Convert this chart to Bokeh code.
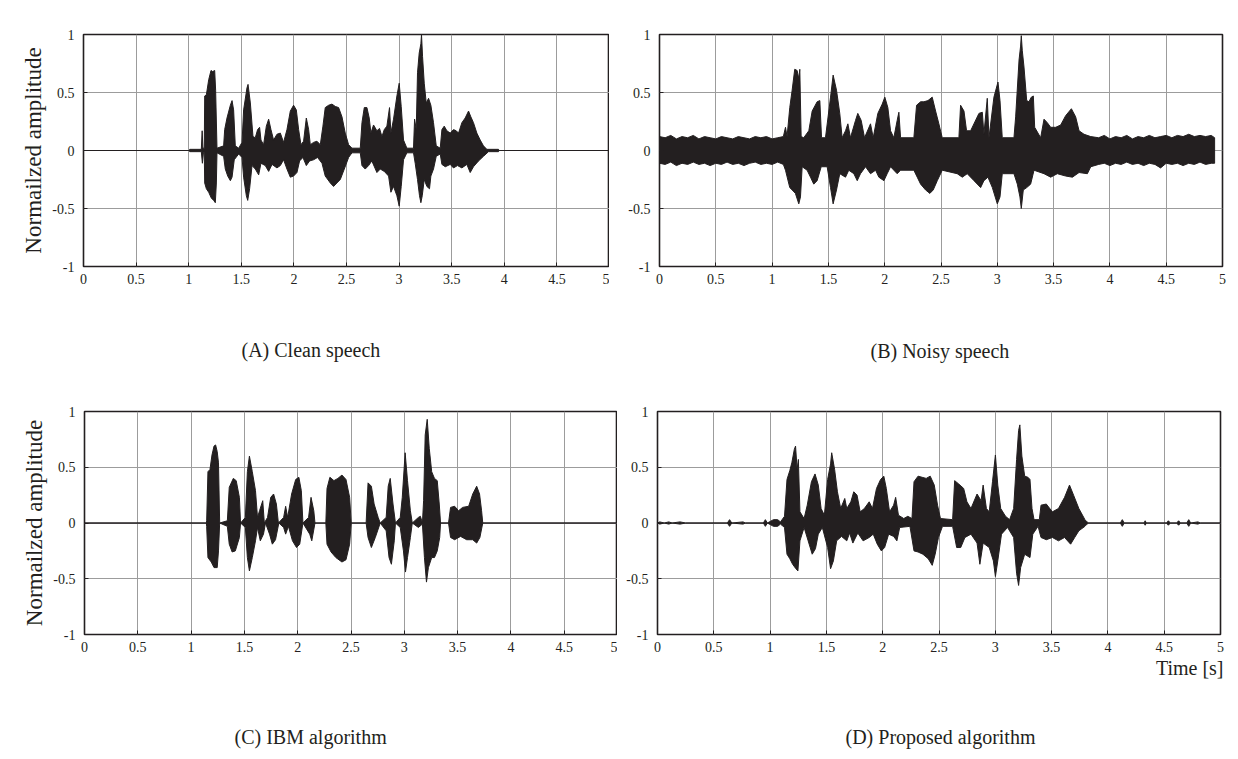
from bokeh.plotting import figure
from bokeh.layouts import column, row
from bokeh.models import FixedTicker, CustomJSTickFormatter, Range1d, Title
from bokeh.embed import file_html
from bokeh.resources import INLINE

# ---------------- data ----------------
X_TICKS = [0, 0.5, 1, 1.5, 2, 2.5, 3, 3.5, 4, 4.5, 5]
Y_TICKS = [-1, -0.5, 0, 0.5, 1]
CAPTIONS = ["(A) Clean speech", "(B) Noisy speech", "(C) IBM algorithm", "(D) Proposed algorithm"]
Y_LABEL = "Normailzed amplitude"
X_LABEL = "Time [s]"

# upper / lower envelopes of each waveform: (time [s], normalized amplitude)
A_TOP = [(0.0, 0.0), (1.0, 0.0), (1.01, 0.01), (1.12, 0.01), (1.128, 0.17), (1.135, 0.02), (1.148, 0.02),
         (1.152, 0.47), (1.168, 0.48), (1.19, 0.61), (1.212, 0.69), (1.228, 0.68), (1.247, 0.69), (1.256, 0.52),
         (1.269, 0.02), (1.332, 0.04), (1.342, 0.18), (1.364, 0.28), (1.396, 0.39), (1.412, 0.43), (1.427, 0.35),
         (1.443, 0.04), (1.475, 0.02), (1.507, 0.07), (1.522, 0.35), (1.554, 0.54), (1.564, 0.57), (1.586, 0.41),
         (1.611, 0.12), (1.633, 0.11), (1.655, 0.18), (1.674, 0.20), (1.687, 0.09), (1.712, 0.05), (1.738, 0.21),
         (1.76, 0.27), (1.782, 0.18), (1.807, 0.09), (1.839, 0.14), (1.871, 0.15), (1.902, 0.07), (1.934, 0.18),
         (1.966, 0.34), (1.997, 0.39), (2.023, 0.35), (2.045, 0.18), (2.067, 0.05), (2.092, 0.08), (2.118, 0.28),
         (2.14, 0.18), (2.156, 0.05), (2.187, 0.07), (2.219, 0.08), (2.251, 0.05), (2.276, 0.21), (2.298, 0.37),
         (2.33, 0.39), (2.362, 0.40), (2.393, 0.38), (2.425, 0.37), (2.457, 0.29), (2.488, 0.15), (2.52, 0.05),
         (2.552, 0.02), (2.631, 0.02), (2.647, 0.24), (2.669, 0.37), (2.694, 0.37), (2.716, 0.28), (2.732, 0.15),
         (2.757, 0.22), (2.789, 0.17), (2.814, 0.19), (2.837, 0.12), (2.859, 0.18), (2.884, 0.21), (2.909, 0.37),
         (2.922, 0.15), (2.947, 0.27), (2.979, 0.47), (3.001, 0.58), (3.02, 0.38), (3.042, 0.09), (3.074, 0.02),
         (3.137, 0.02), (3.147, 0.27), (3.163, 0.18), (3.175, 0.67), (3.191, 0.84), (3.207, 0.92), (3.213, 1.0),
         (3.223, 0.81), (3.239, 0.58), (3.258, 0.41), (3.28, 0.45), (3.302, 0.39), (3.327, 0.24), (3.353, 0.04),
         (3.391, 0.02), (3.407, 0.18), (3.429, 0.21), (3.454, 0.17), (3.486, 0.15), (3.517, 0.18), (3.543, 0.17),
         (3.565, 0.15), (3.597, 0.24), (3.628, 0.28), (3.66, 0.34), (3.682, 0.29), (3.707, 0.24), (3.739, 0.15),
         (3.771, 0.09), (3.802, 0.04), (3.834, 0.01), (3.945, 0.01), (3.95, 0.0), (5.0, 0.0)]
A_BOT = [(0.0, 0.0), (1.0, 0.0), (1.01, -0.01), (1.12, -0.01), (1.13, -0.11), (1.14, -0.02), (1.148, -0.02),
         (1.152, -0.28), (1.168, -0.33), (1.19, -0.36), (1.215, -0.41), (1.237, -0.43), (1.253, -0.45),
         (1.263, -0.28), (1.269, -0.02), (1.332, -0.05), (1.348, -0.16), (1.371, -0.22), (1.396, -0.26),
         (1.412, -0.23), (1.433, -0.08), (1.475, -0.03), (1.507, -0.06), (1.522, -0.23), (1.548, -0.39),
         (1.561, -0.43), (1.579, -0.33), (1.602, -0.13), (1.633, -0.16), (1.665, -0.21), (1.687, -0.11),
         (1.728, -0.13), (1.76, -0.18), (1.792, -0.12), (1.839, -0.15), (1.871, -0.13), (1.902, -0.08),
         (1.934, -0.16), (1.966, -0.23), (1.997, -0.22), (2.029, -0.19), (2.054, -0.09), (2.086, -0.06),
         (2.118, -0.13), (2.149, -0.09), (2.187, -0.08), (2.225, -0.06), (2.267, -0.11), (2.298, -0.22),
         (2.346, -0.28), (2.377, -0.31), (2.409, -0.28), (2.441, -0.25), (2.479, -0.16), (2.52, -0.06),
         (2.552, -0.02), (2.631, -0.02), (2.647, -0.13), (2.678, -0.16), (2.71, -0.13), (2.741, -0.09),
         (2.789, -0.19), (2.821, -0.16), (2.859, -0.18), (2.9, -0.22), (2.922, -0.36), (2.947, -0.31),
         (2.979, -0.39), (3.001, -0.48), (3.02, -0.31), (3.042, -0.08), (3.074, -0.02), (3.137, -0.02),
         (3.153, -0.11), (3.175, -0.25), (3.194, -0.39), (3.207, -0.45), (3.22, -0.39), (3.239, -0.25),
         (3.264, -0.31), (3.289, -0.33), (3.302, -0.22), (3.327, -0.16), (3.353, -0.05), (3.391, -0.03),
         (3.407, -0.12), (3.439, -0.14), (3.486, -0.12), (3.517, -0.15), (3.555, -0.13), (3.597, -0.15),
         (3.644, -0.12), (3.676, -0.19), (3.707, -0.14), (3.755, -0.09), (3.802, -0.05), (3.85, -0.01),
         (3.945, -0.01), (3.95, 0.0), (5.0, 0.0)]

B_TOP = [(0.0, 0.12), (0.05, 0.11), (0.1, 0.13), (0.15, 0.10), (0.2, 0.12), (0.25, 0.11), (0.3, 0.13),
         (0.35, 0.10), (0.4, 0.12), (0.45, 0.11), (0.5, 0.10), (0.55, 0.12), (0.6, 0.11), (0.65, 0.10),
         (0.7, 0.12), (0.75, 0.11), (0.8, 0.10), (0.85, 0.12), (0.9, 0.11), (0.95, 0.12), (1.0, 0.10),
         (1.05, 0.11), (1.1, 0.12), (1.119, 0.20), (1.133, 0.12), (1.157, 0.37), (1.178, 0.52), (1.201, 0.70),
         (1.222, 0.69), (1.237, 0.62), (1.246, 0.70), (1.258, 0.12), (1.281, 0.11), (1.326, 0.17), (1.356, 0.34),
         (1.4, 0.42), (1.424, 0.43), (1.439, 0.11), (1.474, 0.11), (1.519, 0.46), (1.542, 0.65), (1.572, 0.52),
         (1.601, 0.32), (1.622, 0.11), (1.652, 0.17), (1.673, 0.23), (1.696, 0.11), (1.741, 0.26), (1.761, 0.32),
         (1.791, 0.26), (1.821, 0.11), (1.874, 0.23), (1.898, 0.11), (1.939, 0.32), (1.978, 0.40), (2.001, 0.46),
         (2.028, 0.37), (2.052, 0.17), (2.081, 0.11), (2.111, 0.26), (2.126, 0.33), (2.141, 0.11), (2.259, 0.11),
         (2.283, 0.39), (2.319, 0.42), (2.348, 0.42), (2.384, 0.43), (2.422, 0.46), (2.452, 0.34), (2.481, 0.23),
         (2.511, 0.11), (2.659, 0.11), (2.674, 0.39), (2.704, 0.34), (2.727, 0.17), (2.763, 0.17), (2.837, 0.32),
         (2.867, 0.33), (2.881, 0.14), (2.911, 0.45), (2.926, 0.11), (2.97, 0.46), (3.006, 0.59), (3.024, 0.43),
         (3.044, 0.11), (3.148, 0.11), (3.163, 0.29), (3.193, 0.78), (3.207, 0.90), (3.213, 0.99), (3.222, 0.86),
         (3.237, 0.72), (3.261, 0.43), (3.281, 0.42), (3.302, 0.46), (3.32, 0.47), (3.332, 0.20), (3.385, 0.11),
         (3.415, 0.27), (3.444, 0.24), (3.474, 0.20), (3.519, 0.20), (3.563, 0.22), (3.607, 0.30), (3.658, 0.36),
         (3.696, 0.29), (3.726, 0.17), (3.77, 0.14), (3.83, 0.12), (3.9, 0.11), (3.95, 0.13), (4.0, 0.10),
         (4.05, 0.12), (4.1, 0.11), (4.15, 0.13), (4.2, 0.10), (4.25, 0.12), (4.3, 0.11), (4.35, 0.13),
         (4.4, 0.11), (4.45, 0.12), (4.5, 0.13), (4.55, 0.11), (4.6, 0.13), (4.65, 0.12), (4.7, 0.14),
         (4.75, 0.12), (4.8, 0.13), (4.85, 0.12), (4.9, 0.13), (4.93, 0.11)]
B_BOT = [(0.0, -0.11), (0.05, -0.12), (0.1, -0.10), (0.15, -0.13), (0.2, -0.11), (0.25, -0.12), (0.3, -0.10),
         (0.35, -0.12), (0.4, -0.11), (0.45, -0.13), (0.5, -0.11), (0.55, -0.12), (0.6, -0.10), (0.65, -0.12),
         (0.7, -0.11), (0.75, -0.13), (0.8, -0.11), (0.85, -0.10), (0.9, -0.12), (0.95, -0.11), (1.0, -0.12),
         (1.05, -0.10), (1.1, -0.12), (1.119, -0.17), (1.157, -0.32), (1.178, -0.34), (1.207, -0.37),
         (1.237, -0.46), (1.252, -0.40), (1.267, -0.14), (1.311, -0.17), (1.341, -0.23), (1.37, -0.29),
         (1.4, -0.26), (1.436, -0.14), (1.489, -0.14), (1.519, -0.32), (1.542, -0.46), (1.572, -0.34),
         (1.601, -0.20), (1.652, -0.23), (1.681, -0.17), (1.726, -0.20), (1.756, -0.26), (1.785, -0.20),
         (1.83, -0.14), (1.874, -0.20), (1.919, -0.17), (1.948, -0.23), (1.993, -0.26), (2.022, -0.20),
         (2.052, -0.14), (2.111, -0.20), (2.141, -0.17), (2.259, -0.17), (2.289, -0.23), (2.319, -0.29),
         (2.363, -0.34), (2.401, -0.37), (2.431, -0.34), (2.467, -0.26), (2.511, -0.17), (2.644, -0.20),
         (2.689, -0.23), (2.733, -0.20), (2.793, -0.26), (2.852, -0.32), (2.881, -0.26), (2.917, -0.23),
         (2.956, -0.32), (3.0, -0.46), (3.024, -0.40), (3.044, -0.20), (3.148, -0.20), (3.178, -0.29),
         (3.201, -0.40), (3.213, -0.50), (3.231, -0.34), (3.261, -0.32), (3.296, -0.29), (3.326, -0.17),
         (3.415, -0.20), (3.474, -0.23), (3.533, -0.20), (3.607, -0.22), (3.667, -0.23), (3.726, -0.19),
         (3.8, -0.20), (3.83, -0.14), (3.9, -0.12), (3.95, -0.11), (4.0, -0.13), (4.05, -0.11), (4.1, -0.12),
         (4.15, -0.10), (4.2, -0.12), (4.25, -0.11), (4.3, -0.13), (4.35, -0.11), (4.4, -0.12), (4.45, -0.15),
         (4.5, -0.11), (4.55, -0.12), (4.6, -0.11), (4.65, -0.13), (4.7, -0.11), (4.75, -0.12), (4.8, -0.10),
         (4.85, -0.12), (4.9, -0.11), (4.93, -0.11)]

C_TOP = [(0.0, 0.0), (1.143, 0.0), (1.146, 0.02), (1.158, 0.46), (1.177, 0.48), (1.196, 0.61), (1.215, 0.69),
         (1.23, 0.70), (1.245, 0.64), (1.257, 0.54), (1.268, 0.0), (1.34, 0.02), (1.358, 0.32), (1.396, 0.40),
         (1.423, 0.38), (1.453, 0.23), (1.464, 0.0), (1.509, 0.05), (1.528, 0.46), (1.547, 0.60), (1.574, 0.46),
         (1.604, 0.29), (1.623, 0.05), (1.642, 0.11), (1.672, 0.20), (1.687, 0.0), (1.717, 0.05), (1.747, 0.23),
         (1.774, 0.26), (1.8, 0.17), (1.819, 0.0), (1.868, 0.05), (1.887, 0.15), (1.906, 0.05), (1.943, 0.26),
         (1.981, 0.39), (2.011, 0.41), (2.034, 0.29), (2.049, 0.0), (2.102, 0.05), (2.125, 0.23), (2.151, 0.11),
         (2.162, 0.0), (2.264, 0.0), (2.275, 0.31), (2.302, 0.41), (2.34, 0.38), (2.377, 0.40), (2.415, 0.43),
         (2.453, 0.39), (2.487, 0.23), (2.502, 0.0), (2.642, 0.0), (2.66, 0.36), (2.691, 0.33), (2.717, 0.17),
         (2.755, 0.05), (2.774, 0.0), (2.83, 0.05), (2.849, 0.33), (2.868, 0.40), (2.894, 0.17), (2.917, 0.0),
         (2.962, 0.05), (2.981, 0.23), (3.008, 0.63), (3.03, 0.38), (3.057, 0.11), (3.075, 0.0), (3.132, 0.05),
         (3.151, 0.06), (3.17, 0.0), (3.181, 0.20), (3.196, 0.79), (3.215, 0.93), (3.234, 0.67), (3.257, 0.46),
         (3.283, 0.40), (3.309, 0.38), (3.328, 0.17), (3.34, 0.0), (3.415, 0.0), (3.434, 0.14), (3.472, 0.15),
         (3.509, 0.11), (3.547, 0.14), (3.604, 0.15), (3.642, 0.26), (3.679, 0.33), (3.706, 0.26), (3.725, 0.11),
         (3.736, 0.0), (5.0, 0.0)]
C_BOT = [(0.0, 0.0), (1.143, 0.0), (1.146, -0.03), (1.158, -0.31), (1.189, -0.35), (1.215, -0.40),
         (1.245, -0.40), (1.257, -0.25), (1.268, 0.0), (1.34, -0.03), (1.358, -0.19), (1.385, -0.26),
         (1.415, -0.25), (1.453, -0.13), (1.464, 0.0), (1.509, -0.04), (1.528, -0.31), (1.547, -0.43),
         (1.574, -0.31), (1.604, -0.16), (1.623, -0.04), (1.649, -0.16), (1.679, -0.10), (1.698, 0.0),
         (1.736, -0.10), (1.762, -0.19), (1.792, -0.15), (1.823, 0.0), (1.868, -0.04), (1.887, -0.10),
         (1.913, -0.03), (1.951, -0.16), (1.989, -0.22), (2.019, -0.19), (2.049, 0.0), (2.113, -0.10),
         (2.132, -0.16), (2.162, 0.0), (2.264, 0.0), (2.275, -0.19), (2.313, -0.26), (2.358, -0.31),
         (2.415, -0.35), (2.453, -0.33), (2.487, -0.19), (2.502, 0.0), (2.642, 0.0), (2.66, -0.13),
         (2.691, -0.22), (2.728, -0.13), (2.774, 0.0), (2.83, -0.07), (2.857, -0.31), (2.879, -0.37),
         (2.906, -0.16), (2.917, 0.0), (2.962, -0.04), (2.992, -0.25), (3.011, -0.44), (3.03, -0.31),
         (3.057, -0.13), (3.075, 0.0), (3.132, -0.04), (3.17, -0.01), (3.189, -0.31), (3.208, -0.53),
         (3.226, -0.40), (3.257, -0.31), (3.283, -0.31), (3.309, -0.25), (3.332, -0.13), (3.34, 0.0),
         (3.415, 0.0), (3.434, -0.13), (3.472, -0.15), (3.528, -0.12), (3.585, -0.15), (3.642, -0.15),
         (3.679, -0.18), (3.709, -0.13), (3.736, 0.0), (5.0, 0.0)]

D_TOP = [(0.0, 0.0), (0.02, 0.01), (0.06, 0.0), (0.1, 0.01), (0.13, 0.0), (0.2, 0.01), (0.25, 0.0),
         (0.62, 0.0), (0.64, 0.03), (0.66, 0.0), (0.76, 0.01), (0.78, 0.0), (0.94, 0.0), (0.958, 0.03),
         (0.976, 0.0), (1.03, 0.03), (1.067, 0.03), (1.092, 0.01), (1.128, 0.06), (1.15, 0.39), (1.175, 0.47),
         (1.193, 0.54), (1.215, 0.66), (1.226, 0.69), (1.24, 0.48), (1.251, 0.57), (1.265, 0.10), (1.302, 0.04),
         (1.33, 0.16), (1.367, 0.37), (1.399, 0.44), (1.428, 0.34), (1.453, 0.13), (1.482, 0.07), (1.511, 0.39),
         (1.537, 0.53), (1.547, 0.63), (1.573, 0.48), (1.598, 0.28), (1.627, 0.13), (1.663, 0.22), (1.681, 0.13),
         (1.717, 0.19), (1.743, 0.28), (1.772, 0.25), (1.8, 0.10), (1.837, 0.13), (1.88, 0.19), (1.909, 0.13),
         (1.945, 0.31), (1.981, 0.39), (2.01, 0.42), (2.032, 0.31), (2.061, 0.10), (2.097, 0.16), (2.115, 0.23),
         (2.14, 0.07), (2.187, 0.04), (2.223, 0.06), (2.26, 0.04), (2.278, 0.37), (2.314, 0.42), (2.35, 0.41),
         (2.386, 0.40), (2.422, 0.42), (2.458, 0.34), (2.487, 0.16), (2.513, 0.04), (2.621, 0.03), (2.639, 0.38),
         (2.675, 0.35), (2.719, 0.31), (2.748, 0.19), (2.784, 0.13), (2.838, 0.26), (2.874, 0.20), (2.892, 0.34),
         (2.921, 0.13), (2.946, 0.10), (2.975, 0.37), (3.001, 0.61), (3.022, 0.34), (3.048, 0.13), (3.091, 0.06),
         (3.127, 0.03), (3.163, 0.13), (3.189, 0.57), (3.207, 0.83), (3.218, 0.88), (3.236, 0.60), (3.261, 0.42),
         (3.29, 0.41), (3.308, 0.39), (3.326, 0.13), (3.344, 0.03), (3.391, 0.03), (3.406, 0.16), (3.453, 0.17),
         (3.507, 0.10), (3.561, 0.13), (3.615, 0.23), (3.659, 0.34), (3.695, 0.25), (3.742, 0.13), (3.796, 0.03),
         (3.814, 0.01), (3.83, 0.0), (4.11, 0.0), (4.128, 0.03), (4.145, 0.0), (4.32, 0.0), (4.331, 0.02),
         (4.342, 0.0), (4.52, 0.0), (4.537, 0.02), (4.555, 0.0), (4.61, 0.0), (4.628, 0.02), (4.645, 0.0),
         (4.7, 0.0), (4.718, 0.03), (4.735, 0.0), (4.8, 0.01), (4.82, 0.0), (5.0, 0.0)]
D_BOT = [(0.0, 0.0), (0.02, -0.01), (0.06, 0.0), (0.1, -0.01), (0.13, 0.0), (0.2, -0.01), (0.25, 0.0),
         (0.62, 0.0), (0.64, -0.03), (0.66, 0.0), (0.76, -0.01), (0.78, 0.0), (0.94, 0.0), (0.958, -0.03),
         (0.976, 0.0), (1.03, -0.03), (1.067, -0.03), (1.092, -0.01), (1.128, -0.04), (1.15, -0.28),
         (1.175, -0.32), (1.2, -0.37), (1.229, -0.41), (1.247, -0.43), (1.265, -0.16), (1.302, -0.04),
         (1.338, -0.16), (1.374, -0.28), (1.403, -0.23), (1.428, -0.10), (1.464, -0.04), (1.511, -0.22),
         (1.537, -0.41), (1.562, -0.34), (1.591, -0.16), (1.634, -0.12), (1.681, -0.16), (1.706, -0.09),
         (1.735, -0.18), (1.779, -0.09), (1.826, -0.16), (1.88, -0.13), (1.916, -0.10), (1.952, -0.19),
         (1.988, -0.25), (2.017, -0.22), (2.053, -0.10), (2.097, -0.12), (2.126, -0.16), (2.151, -0.04),
         (2.242, -0.03), (2.278, -0.25), (2.314, -0.26), (2.357, -0.28), (2.404, -0.32), (2.44, -0.38),
         (2.466, -0.28), (2.495, -0.13), (2.531, -0.03), (2.621, -0.03), (2.657, -0.22), (2.693, -0.22),
         (2.73, -0.13), (2.784, -0.10), (2.838, -0.18), (2.863, -0.37), (2.892, -0.18), (2.946, -0.22),
         (2.983, -0.34), (3.001, -0.48), (3.022, -0.34), (3.055, -0.10), (3.109, -0.04), (3.163, -0.13),
         (3.189, -0.45), (3.207, -0.56), (3.225, -0.40), (3.261, -0.28), (3.308, -0.31), (3.333, -0.10),
         (3.38, -0.03), (3.406, -0.13), (3.453, -0.15), (3.507, -0.13), (3.561, -0.16), (3.615, -0.13),
         (3.669, -0.19), (3.705, -0.13), (3.742, -0.07), (3.796, -0.03), (3.814, -0.01), (3.83, 0.0),
         (4.11, 0.0), (4.128, -0.03), (4.145, 0.0), (4.32, 0.0), (4.331, -0.02), (4.342, 0.0), (4.52, 0.0),
         (4.537, -0.02), (4.555, 0.0), (4.61, 0.0), (4.628, -0.02), (4.645, 0.0), (4.7, 0.0), (4.718, -0.03),
         (4.735, 0.0), (4.8, -0.01), (4.82, 0.0), (5.0, 0.0)]

# ---------------- style ----------------
INK = "#231f20"
GRID = "#9c9c9c"
FONT = "Liberation Serif"


def below_text(p, text, align="left", offset=0, standoff=0, size="20px"):
    p.add_layout(Title(text=text, align=align, offset=offset, standoff=standoff, vertical_align="bottom",
                       text_font=FONT, text_font_size=size, text_font_style="normal", text_color=INK), "below")


def spacer(p, gap):
    below_text(p, " ", standoff=gap, size="2px")


def panel(top, bot, width, height, borders, ylabel=None):
    bl, br, bt, bb = borders
    p = figure(width=width, height=height, output_backend="svg", toolbar_location=None,
               min_border_left=bl, min_border_right=br, min_border_top=bt, min_border_bottom=bb,
               x_range=Range1d(0, 5), y_range=Range1d(-1, 1))
    p.background_fill_color = "white"
    p.border_fill_color = "white"
    p.outline_line_color = INK
    p.outline_line_width = 1.6
    p.outline_line_alpha = 1.0

    fmt = CustomJSTickFormatter(code="return String(tick);")
    for ax, ticks in ((p.xaxis[0], X_TICKS), (p.yaxis[0], Y_TICKS)):
        ax.ticker = FixedTicker(ticks=ticks)
        ax.formatter = fmt
        ax.axis_line_color = None
        ax.major_tick_in = 4
        ax.major_tick_out = 0
        ax.major_tick_line_color = INK
        ax.minor_tick_line_color = None
        ax.major_label_text_font = FONT
        ax.major_label_text_font_size = "14px"
        ax.major_label_text_color = INK
    p.xaxis.major_label_standoff = 7
    p.yaxis.major_label_standoff = 9
    if ylabel:
        p.yaxis.axis_label = ylabel
        p.yaxis.axis_label_text_font = FONT
        p.yaxis.axis_label_text_font_size = "23px"
        p.yaxis.axis_label_text_font_style = "normal"
        p.yaxis.axis_label_text_color = INK
        p.yaxis.axis_label_standoff = 3

    p.grid.grid_line_color = GRID
    p.grid.grid_line_width = 1

    xs = [t for t, _ in top] + [t for t, _ in reversed(bot)]
    ys = [v for _, v in top] + [v for _, v in reversed(bot)]
    p.patch(xs, ys, fill_color=INK, line_color=INK, line_width=1.0)
    return p


pA = panel(A_TOP, A_BOT, 609, 385, (83, 0, 34, 116), Y_LABEL)
pB = panel(B_TOP, B_BOT, 621, 385, (50, 8, 34, 119))
pC = panel(C_TOP, C_BOT, 617, 370, (84, 0, 26, 121), Y_LABEL)
pD = panel(D_TOP, D_BOT, 611, 370, (40, 8, 26, 121))

spacer(pA, 46)
below_text(pA, CAPTIONS[0], offset=158)
spacer(pB, 47)
below_text(pB, CAPTIONS[1], offset=211)
spacer(pC, 65)
below_text(pC, CAPTIONS[2], offset=150)
below_text(pD, X_LABEL, align="right", offset=-3)
spacer(pD, 41)
below_text(pD, CAPTIONS[3], offset=188)

layout = column(row(pA, pB, spacing=0), row(pC, pD, spacing=0), spacing=0)
open("out.html", "w").write(file_html(layout, INLINE))
